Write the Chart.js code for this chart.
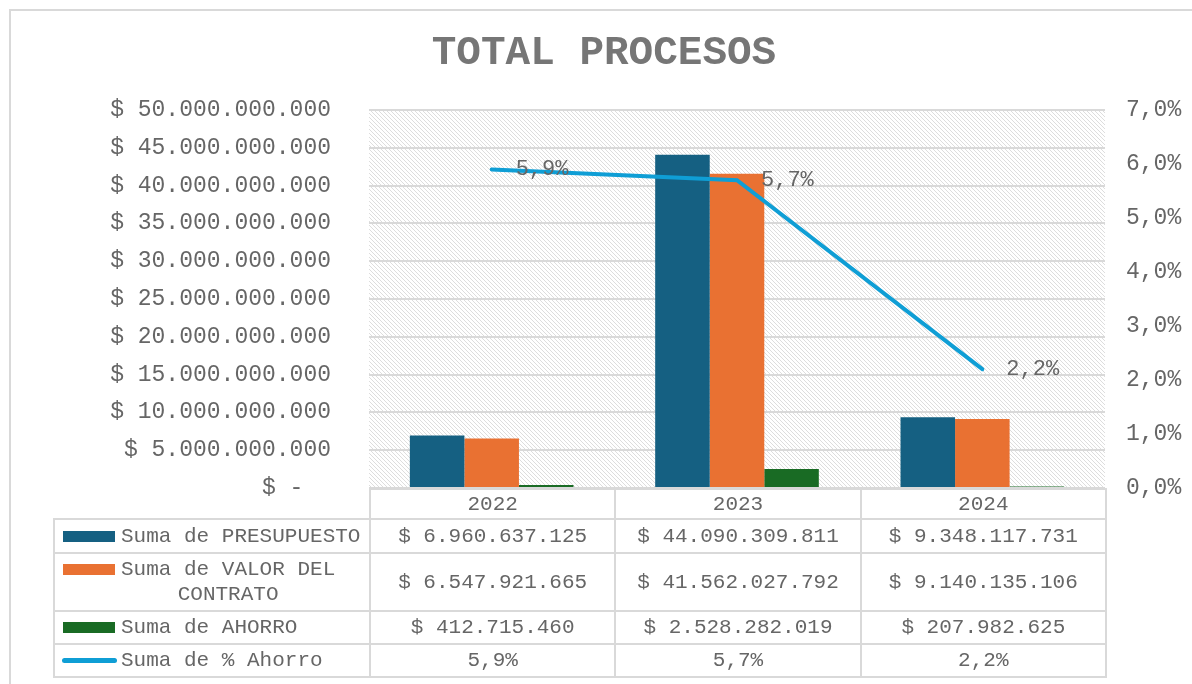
<!DOCTYPE html>
<html lang="es">
<head>
<meta charset="utf-8">
<title>TOTAL PROCESOS</title>
<script src="https://cdn.jsdelivr.net/npm/chart.js@4"></script>
<style>
  html, body { margin: 0; padding: 0; background: #fff; overflow: hidden; }
  #wrap { position: relative; width: 1192px; height: 684px; overflow: hidden; }
  #frame { position: absolute; left: 9px; top: 9px; width: 1200px; height: 700px; border: 2px solid #d9d9d9; box-sizing: border-box; }
  #chart { position: absolute; left: 0; top: 0; }
  #title { position: absolute; left: 0; width: 1208px; top: 33px; text-align: center; font: bold 41px/41px 'Liberation Mono', 'Courier New', monospace; color: #767676; }
  #dataTable { position: absolute; border-collapse: collapse; table-layout: fixed; font: 21px/25px 'Liberation Mono', 'Courier New', monospace; color: #666666; }
  #dataTable td { border: 2px solid #d9d9d9; text-align: center; padding: 0; white-space: nowrap; }
  #dataTable td.blank { border-left: none; border-top: none; }
  .key { display: flex; align-items: flex-start; }
  .swatch { flex: none; width: 52px; height: 11px; margin: 7px 6px 0 8px; }
  .swatch.line { width: 55px; height: 5px; border-radius: 3px; margin: 10px 4px 0 7px; }
  .key span { display: inline-block; white-space: pre-line; text-align: center; }
</style>
</head>
<body>
<div id="wrap">
  <div id="frame"></div>
  <canvas id="chart" width="1192" height="684"></canvas>
  <div id="title">TOTAL PROCESOS</div>
  <table id="dataTable"></table>
</div>
<script>
const categories = ['2022', '2023', '2024'];
const presupuesto = [6960637125, 44090309811, 9348117731];
const valorContrato = [6547921665, 41562027792, 9140135106];
const ahorro = [412715460, 2528282019, 207982625];
const pctAhorro = [5.9, 5.7, 2.2];
const seriesNames = ['Suma de PRESUPUESTO', 'Suma de VALOR DEL\nCONTRATO', 'Suma de AHORRO', 'Suma de % Ahorro'];
const seriesColors = ['#156082', '#e97132', '#196b24', '#0f9ed5'];

const FONT = "'Liberation Mono', 'Courier New', monospace";
const TEXT = '#666666';

function dots(n) {
  return String(Math.round(n)).replace(/\B(?=(\d{3})+(?!\d))/g, '.');
}
function money(n) {
  return n === 0 ? '$ -  ' : '$ ' + dots(n);
}
function pct(n) {
  return n.toFixed(1).replace('.', ',') + '%';
}

function hatchPattern(ctx) {
  const tile = document.createElement('canvas');
  tile.width = 8;
  tile.height = 8;
  const t = tile.getContext('2d');
  t.fillStyle = '#ffffff';
  t.fillRect(0, 0, 8, 8);
  t.fillStyle = '#dddddd';
  for (let i = 0; i < 8; i++) {
    t.fillRect(i, i, 1, 1);
    t.fillRect(i, (i + 4) % 8, 1, 1);
  }
  return ctx.createPattern(tile, 'repeat');
}

const hatchBackground = {
  id: 'hatchBackground',
  beforeDraw(chart) {
    const { ctx, chartArea: a } = chart;
    ctx.save();
    ctx.fillStyle = hatchPattern(ctx);
    ctx.fillRect(a.left, a.top, a.right - a.left, a.bottom - a.top);
    ctx.restore();
  }
};

const lineLabels = {
  id: 'lineLabels',
  afterDatasetsDraw(chart) {
    const meta = chart.getDatasetMeta(3);
    const { ctx } = chart;
    ctx.save();
    ctx.font = '22px ' + FONT;
    ctx.fillStyle = TEXT;
    ctx.textAlign = 'left';
    ctx.textBaseline = 'middle';
    meta.data.forEach((pt, i) => {
      ctx.fillText(pct(pctAhorro[i]), pt.x + 24, pt.y);
    });
    ctx.restore();
  }
};

Chart.defaults.font.family = FONT;
Chart.defaults.color = TEXT;

const chart = new Chart(document.getElementById('chart'), {
  type: 'bar',
  data: {
    labels: categories,
    datasets: [
      { label: seriesNames[0], data: presupuesto, backgroundColor: seriesColors[0], yAxisID: 'y', order: 1 },
      { label: seriesNames[1], data: valorContrato, backgroundColor: seriesColors[1], yAxisID: 'y', order: 1 },
      { label: seriesNames[2], data: ahorro, backgroundColor: seriesColors[2], yAxisID: 'y', order: 1 },
      {
        type: 'line',
        label: seriesNames[3],
        data: pctAhorro,
        borderColor: seriesColors[3],
        backgroundColor: seriesColors[3],
        borderWidth: 4,
        borderCapStyle: 'round',
        pointRadius: 0,
        yAxisID: 'y1',
        order: 0
      }
    ]
  },
  options: {
    responsive: false,
    animation: false,
    layout: { padding: { top: 110, bottom: 196, left: 0, right: 0 } },
    datasets: { bar: { categoryPercentage: 0.667, barPercentage: 1 } },
    plugins: { legend: { display: false }, tooltip: { enabled: false }, title: { display: false } },
    scales: {
      x: { display: false },
      y: {
        position: 'left',
        min: 0,
        max: 50000000000,
        afterFit(scale) { scale.width = 369; },
        border: { display: false },
        grid: { color: '#d9d9d9', lineWidth: 2, drawTicks: false },
        ticks: { stepSize: 5000000000, padding: 38, font: { size: 23 }, color: TEXT, callback: (v) => money(v) }
      },
      y1: {
        position: 'right',
        min: 0,
        max: 7,
        afterFit(scale) { scale.width = 87; },
        border: { display: false },
        grid: { display: false, drawTicks: false },
        ticks: { stepSize: 1, padding: 21, font: { size: 23 }, color: TEXT, callback: (v) => pct(v) }
      }
    }
  },
  plugins: [hatchBackground, lineLabels]
});

function buildTable() {
  const area = chart.chartArea;
  const colW = (area.right - area.left) / categories.length;
  const table = document.getElementById('dataTable');
  const legendLeft = 53;
  table.style.left = legendLeft + 'px';
  table.style.top = Math.round(area.bottom) + 'px';

  const cols = `<colgroup><col style="width:${area.left - legendLeft}px">` +
    categories.map(() => `<col style="width:${colW}px">`).join('') + '</colgroup>';

  const header = `<tr style="height:30px"><td class="blank"></td>` +
    categories.map((c) => `<td>${c}</td>`).join('') + '</tr>';

  const rows = [
    { values: presupuesto.map(money), h: 34, line: false },
    { values: valorContrato.map(money), h: 58, line: false },
    { values: ahorro.map(money), h: 33, line: false },
    { values: pctAhorro.map(pct), h: 33, line: true }
  ].map((r, i) => `<tr style="height:${r.h}px"><td><div class="key">` +
    `<i class="swatch${r.line ? ' line' : ''}" style="background:${seriesColors[i]}"></i>` +
    `<span>${seriesNames[i]}</span></div></td>` +
    r.values.map((v) => `<td>${v}</td>`).join('') + '</tr>').join('');

  table.style.width = (area.right - legendLeft) + 'px';
  table.innerHTML = cols + header + rows;
}

buildTable();
</script>
</body>
</html>
